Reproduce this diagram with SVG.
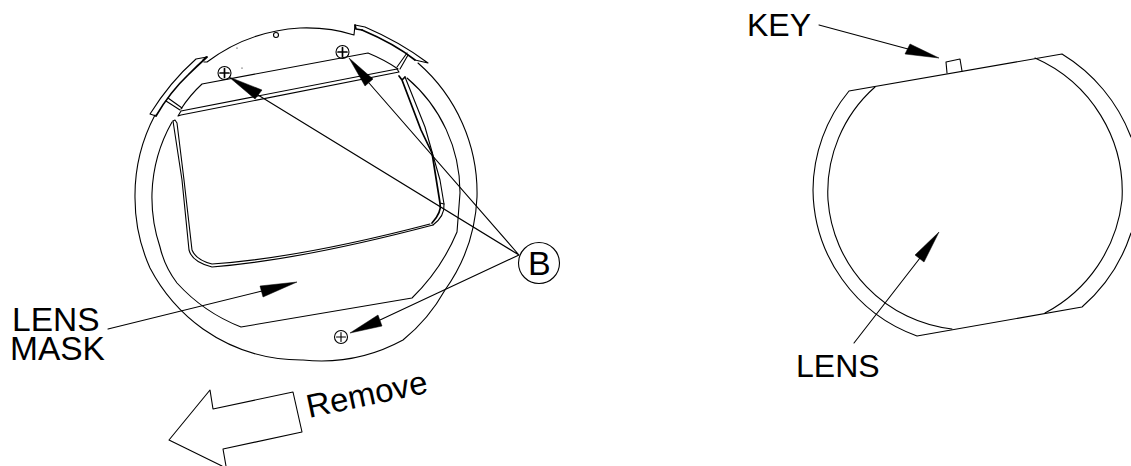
<svg xmlns="http://www.w3.org/2000/svg" width="1131" height="466" viewBox="0 0 1131 466">
<defs><style>
.l{fill:none;stroke:#000;stroke-width:1.1;stroke-linejoin:round;stroke-linecap:round}
.t{stroke-width:1.7}
.c{fill:none;stroke:#000;stroke-width:1.1}
.h{fill:#000;stroke:#000;stroke-width:.5;stroke-linejoin:round}
text{font-family:"Liberation Sans",Arial,sans-serif;fill:#000}
</style></defs>
<rect width="1131" height="466" fill="#fff"/>
<g id="lens-mask">
<path class="l" d="M155,115 A172,172 0 0 0 135,198 A172,172 0 0 0 150,268 A175,175 0 0 0 203,329 A172,172 0 0 0 303,360 A172,172 0 0 0 403,340 A172,172 0 0 0 445,290 A172,172 0 0 0 477,197 A172,172 0 0 0 418,63"/>
<path class="l" d="M203,60 L206,57 M204,62 L207,62 A172,172 0 0 1 300,28 Q330,27 354,35 L355,25"/>
<path class="l t" d="M362,30 L356,29 L355,25"/>
<path class="l" d="M355,25 L365,27 Q400,42 428,63 L415,60"/>
<path class="l t" d="M362,30 Q395,44 415,60"/>
<path class="l" d="M207,57 L196,59 Q170,82 150,114 L156,116"/>
<path class="l t" d="M156,116 Q170,92 188,75 Q197,66 207,57"/>
<path class="l" d="M168,98 L182,108 M166,101 L180,110 M407,53 L397,67 M408,55 L400,69"/>
<path class="l" d="M181,109 Q190,95 202,84 L368,53 Q385,60 398,69"/>
<path class="l" d="M407,78 A150,150 0 0 1 460,193 L457,232 A200,200 0 0 1 412,298 L241,327 A170,170 0 0 1 177,283 A95,95 0 0 1 160,247 A155,155 0 0 1 152,193 A155,155 0 0 1 172,122"/>
<path class="l" d="M178,116 L181,111 L397,69 L399,72 L181,115 Z"/>
<path class="l" d="M173,121 L175,120 L177,123 L184,180 L192,250 Q196,260 212,264 Q300,258 430,224"/>
<path class="l" d="M173,121 L182,180 L189,250 Q192,262 212,267 Q300,260 433,225"/>
<path class="l t" d="M399,76 L402,80 L405,77 M402,80 L421,130 L432,153 L440,203 Q442,212 432,223"/>
<path class="l" d="M405,77 L425,127 L440,180 L444,204 Q445,216 433,225"/>
<path class="l" d="M440,203 L444,204"/>
<circle class="c" cx="276" cy="35" r="2.500"/>
<circle cx="237" cy="48" r=".6"/><circle cx="242" cy="68" r=".6"/>
</g>
<g id="screw-1"><circle class="c" cx="224.500" cy="73" r="6.500"/><path class="l t" d="M220,73 H229 M224.500,68.500 V77.500"/></g>
<g id="screw-2"><circle class="c" cx="342.500" cy="52" r="6.500"/><path class="l t" d="M338,52 H347 M342.500,47.500 V56.500"/></g>
<g id="screw-3"><circle class="c" cx="341" cy="337" r="6.500"/><path class="l" d="M336.500,337 H345.500 M341,332.500 V341.500"/></g>
<g id="remove-arrow"><path class="l" d="M226,466 L223,449 L302,432 L293,392 L213,409 L210,390 L169,440 L222,466"/></g>
<g id="lens">
<path class="l" d="M849,91 L1062,54 A166,166 0 0 1 1131,137 M849,91 A157,157 0 0 0 813,190 A157,157 0 0 0 917,336 L1082,307 A166,166 0 0 0 1131,233"/>
<path class="l" d="M875,87 A140,140 0 0 0 828,200 A140,140 0 0 0 952,329 M1035,58 A146,146 0 0 1 1122,200 A146,146 0 0 1 1045,313"/>
<path class="l" d="M947,73 L946,62 L960,59 L962,71"/>
</g>
<g id="connectors">
<path class="l" d="M258,95 L519,255 M369,83 L519,255 M380,320 L519,255 M108,329 L262,291 M819,25 L908,49 M854,343 L920,258"/>
<polygon class="h" points="229,77 262,90 255,99"/>
<polygon class="h" points="349,58 373,79 365,86"/>
<polygon class="h" points="350,333 378,315 382,326"/>
<polygon class="h" points="297,282 260,286 263,297"/>
<polygon class="h" points="939,58 910,44 905,54"/>
<polygon class="h" points="939,232 915,255 924,262"/>
</g>
<g id="label-b"><circle class="c" cx="539" cy="263" r="20.500"/><text x="528" y="275" font-size="34">B</text></g>
<g id="labels">
<text font-size="33.500"><tspan x="12" y="331">LENS</tspan><tspan x="10" y="360">MASK</tspan></text>
<text x="796" y="377" font-size="32">LENS</text>
<text x="747" y="36" font-size="32">KEY</text>
<text transform="translate(309,418) rotate(-12)" font-size="33">Remove</text>
</g>
</svg>
